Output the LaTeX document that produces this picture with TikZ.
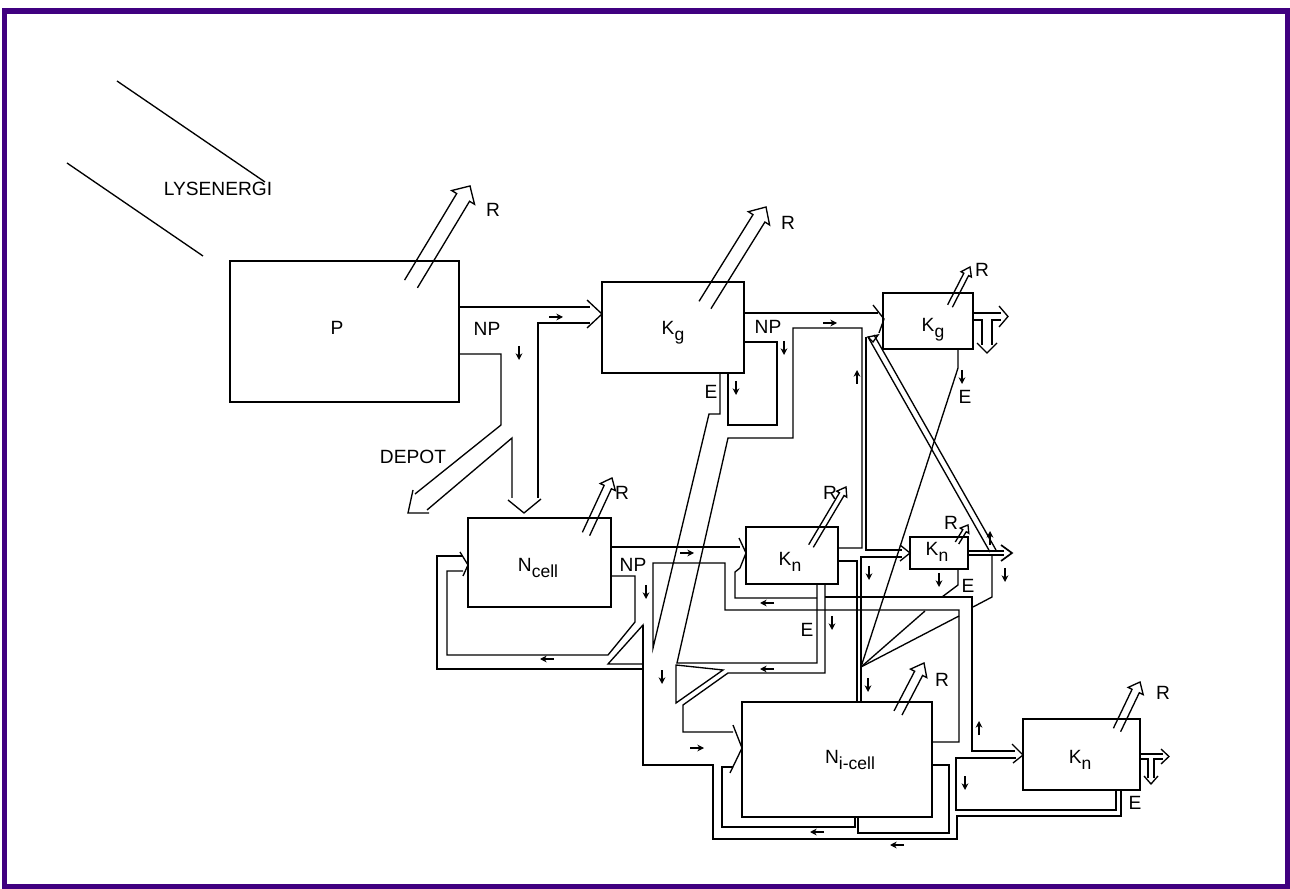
\documentclass[tikz,border=0pt]{standalone}
\usepackage{fontspec}
\setmainfont{Liberation Sans}
\usetikzlibrary{calc,arrows.meta}
\definecolor{framec}{RGB}{64,0,128}
\newcommand\harr[5]{%
  \coordinate (hb) at #1; \coordinate (ht) at #2;
  \coordinate (hn) at ($(ht)!#5!(hb)$);
  \draw[wall] ($(hb)!#3!90:(ht)$) -- ($(hn)!#3!-90:(hb)$) -- ($(hn)!#4!-90:(hb)$) -- (ht)
     -- ($(hn)!#4!90:(hb)$) -- ($(hn)!#3!90:(hb)$) -- ($(hb)!#3!-90:(ht)$);
}
\newcommand\lsub[1]{\raisebox{-0.6ex}{\fontsize{10.5}{10.5}\selectfont #1}}
\begin{document}
\begin{tikzpicture}[x=0.6pt,y=-0.6pt,
  wall/.style={line width=0.8pt, line join=miter},
  sa/.style={line width=0.75pt,-{Stealth[length=4pt,width=4pt]}},
  lbl/.style={inner sep=0pt, font=\fontsize{11.5}{13}\selectfont}]
\useasboundingbox (0,0) rectangle (1290,889);
\fill[framec] (2,8) rectangle (1290,889);
\fill[white] (7,14) rectangle (1285,884);

% light rays
\draw[wall] (117,81) -- (265,182);
\draw[wall] (67,163) -- (203,256);
\node[lbl] (lys) at (218,189) {LYSENERGI};

% P
\draw[wall] (230,261) rectangle (459,402);
\node[lbl] (P) at (337,328) {P};
\harr{(411,284)}{(470,186)}{4.5pt}{8pt}{8pt}
\node[lbl] (rP) at (493,210) {R};
\node[lbl] (np1) at (487,329) {NP};
\node[lbl] (depot) at (413,457) {DEPOT};
\draw[wall] (459,307) -- (590,307);
\draw[wall] (587,300) -- (602,314) -- (587,328);
\draw[wall] (459,354) -- (501,354) -- (501,425) -- (415,494);
\draw[wall] (413,490) -- (408,513) -- (429,513);
\draw[wall] (427,510) -- (512,438) -- (512,498);
\draw[wall] (508,500) -- (524,513) -- (541,499);
\draw[wall] (538,498) -- (538,323) -- (590,323);

% Kg
\draw[wall] (602,282) rectangle (744,373);
\node[lbl] (Kg) at (673,333) {K\lsub{g}};
\harr{(705,305)}{(766,207)}{4.2pt}{7.5pt}{8pt}
\node[lbl] (rKg) at (788,223) {R};
\node[lbl] (np2) at (768,327) {NP};
\node[lbl] (e1) at (711,392) {E};
\draw[wall] (744,313) -- (878,313);
\draw[wall] (873,305) -- (884,319) -- (879,333);
\draw[wall] (744,342) -- (777,342) -- (777,425) -- (728,425) -- (728,373);
\draw[wall] (720,373) -- (720,414) -- (709,414) -- (653,648) -- (653,563) -- (725,563) -- (725,610) -- (959,610) -- (959,742) -- (932,742);
\draw[wall] (838,548) -- (862,548) -- (862,328) -- (793,328) -- (793,438) -- (728,438) -- (677,663) -- (817,663) -- (817,584);

% Kg2
\draw[wall] (883,293) rectangle (973,349);
\node[lbl] (Kg2) at (933,330) {K\lsub{g}};
\harr{(950,306)}{(970,267)}{1.6pt}{3.5pt}{5pt}
\node[lbl] (rKg2) at (982,270) {R};
\draw[wall] (973,313) -- (1001,313);
\draw[wall] (973,320) -- (982,320) -- (982,345);
\draw[wall] (992,345) -- (992,320) -- (1001,320);
\draw[wall] (999,306) -- (1008,316.5) -- (999,327);
\draw[wall] (977,343) -- (987,353) -- (997,343);
\draw[wall] (958,349) -- (958,368) -- (861,667);
\node[lbl] (e2) at (965,397) {E};
\draw[wall] (868,337) -- (990,552);
\draw[wall] (874,335) -- (996,550);
\draw[wall] (868,337) -- (878,335) -- (873,342) -- cycle;

% Kn middle
\draw[wall] (746,527) rectangle (838,584);
\node[lbl] (Kn1) at (790,562) {K\lsub{n}};
\harr{(811,546)}{(846,487)}{1.6pt}{3.5pt}{5pt}
\node[lbl] (rKn1) at (830,493) {R};
\node[lbl] (e3) at (807,630) {E};
\draw[wall] (611,547) -- (740,547);
\draw[wall] (739,538) -- (746,553) -- (740,568) -- (735,572) -- (735,598) -- (817,598);
\draw[wall] (825,584) -- (825,673) -- (728,673) -- (683,705) -- (683,732) -- (733,732);
\draw[wall] (676,665) -- (723,670) -- (676,703) -- cycle;
\draw[wall] (825,597) -- (972,597) -- (972,751) -- (1015,751);
\draw[wall] (838,561) -- (857,561) -- (857,702);
\draw[wall] (866,337) -- (866,550) -- (902,550);
\draw[wall] (900,545) -- (910,553) -- (900,561);
\draw[wall] (902,557) -- (861,557) -- (861,702);
\draw[wall] (861,667) -- (925,611);
\draw[wall] (861,667) -- (959,616);

% Kn small
\draw[wall] (910,537) rectangle (968,569);
\node[lbl] (Kn2) at (937,552) {K\lsub{n}};
\harr{(957,543)}{(968,525)}{1.2pt}{3pt}{4pt}
\node[lbl] (rKn2) at (951,523) {R};
\node[lbl] (e4) at (968,586) {E};
\draw[wall] (958,569) -- (958,585) -- (942,597);
\draw[wall] (992,555) -- (992,597) -- (973,607);
\draw[line width=1pt] (968,551) -- (1004,551);
\draw[line width=1pt] (968,555) -- (1004,555);
\draw[line width=1pt] (1001,545) -- (1012,553) -- (1001,561);

% N cell
\draw[wall] (468,518) rectangle (611,607);
\node[lbl] (Nc) at (538,568) {N\lsub{cell}};
\harr{(586,534)}{(612,478)}{2.4pt}{5pt}{6pt}
\node[lbl] (rNc) at (622,493) {R};
\node[lbl] (np3) at (633,565) {NP};
\draw[wall] (611,576) -- (635,576) -- (635,622) -- (608,655) -- (447,655) -- (447,571) -- (463,571);
\draw[wall] (460,552) -- (468,565) -- (463,576);
\draw[wall] (463,556) -- (437,556) -- (437,669) -- (643,669);
\draw[wall] (643,625) -- (608,664) -- (643,664) -- cycle;
\draw[wall] (643,625) -- (643,765) -- (713,765) -- (713,839) -- (957,839) -- (957,816) -- (1121,816) -- (1121,790);

% N i-cell
\draw[wall] (742,702) rectangle (932,817);
\node[lbl] (Ni) at (850,760) {N\lsub{i-cell}};
\harr{(898,713)}{(924,663)}{2.7pt}{5.5pt}{7pt}
\node[lbl] (rNi) at (942,680) {R};
\draw[wall] (733,725) -- (742,748) -- (730,773);
\draw[wall] (733,767) -- (722,767) -- (722,827) -- (855,827) -- (855,817);
\draw[wall] (932,765) -- (949,765) -- (949,833) -- (858,833) -- (858,817);

% Kn right
\draw[wall] (1023,719) rectangle (1140,790);
\node[lbl] (Kn3) at (1080,760) {K\lsub{n}};
\harr{(1117,730)}{(1140,682)}{2.4pt}{5pt}{6pt}
\node[lbl] (rKn3) at (1163,693) {R};
\node[lbl] (e5) at (1135,803) {E};
\draw[wall] (1012,744) -- (1023,755) -- (1013,763);
\draw[wall] (1016,758) -- (956,758) -- (956,810) -- (1116,810) -- (1116,790);
\draw[wall] (1140,754) -- (1163,754);
\draw[wall] (1140,759) -- (1148,759) -- (1148,778);
\draw[wall] (1154,778) -- (1154,759) -- (1163,759);
\draw[wall] (1161,749) -- (1169,756.5) -- (1161,764);
\draw[wall] (1144,776) -- (1151,784) -- (1158,776);

% small flow arrows
\draw[sa] (519,346) -- ++(0,14);
\draw[sa] (549,317) -- ++(14,0);
\draw[sa] (784,341) -- ++(0,14);
\draw[sa] (736,381) -- ++(0,14);
\draw[sa] (823,323) -- ++(14,0);
\draw[sa] (857,384) -- ++(0,-14);
\draw[sa] (962,370) -- ++(0,14);
\draw[sa] (869,566) -- ++(0,14);
\draw[sa] (939,573) -- ++(0,14);
\draw[sa] (990,545) -- ++(0,-14);
\draw[sa] (1005,568) -- ++(0,14);
\draw[sa] (680,553) -- ++(14,0);
\draw[sa] (646,585) -- ++(0,14);
\draw[sa] (554,659) -- ++(-14,0);
\draw[sa] (774,603) -- ++(-14,0);
\draw[sa] (832,616) -- ++(0,14);
\draw[sa] (868,678) -- ++(0,14);
\draw[sa] (662,670) -- ++(0,14);
\draw[sa] (774,669) -- ++(-14,0);
\draw[sa] (690,748) -- ++(14,0);
\draw[sa] (824,832) -- ++(-14,0);
\draw[sa] (904,845) -- ++(-14,0);
\draw[sa] (979,735) -- ++(0,-14);
\draw[sa] (965,776) -- ++(0,14);
\end{tikzpicture}
\end{document}
